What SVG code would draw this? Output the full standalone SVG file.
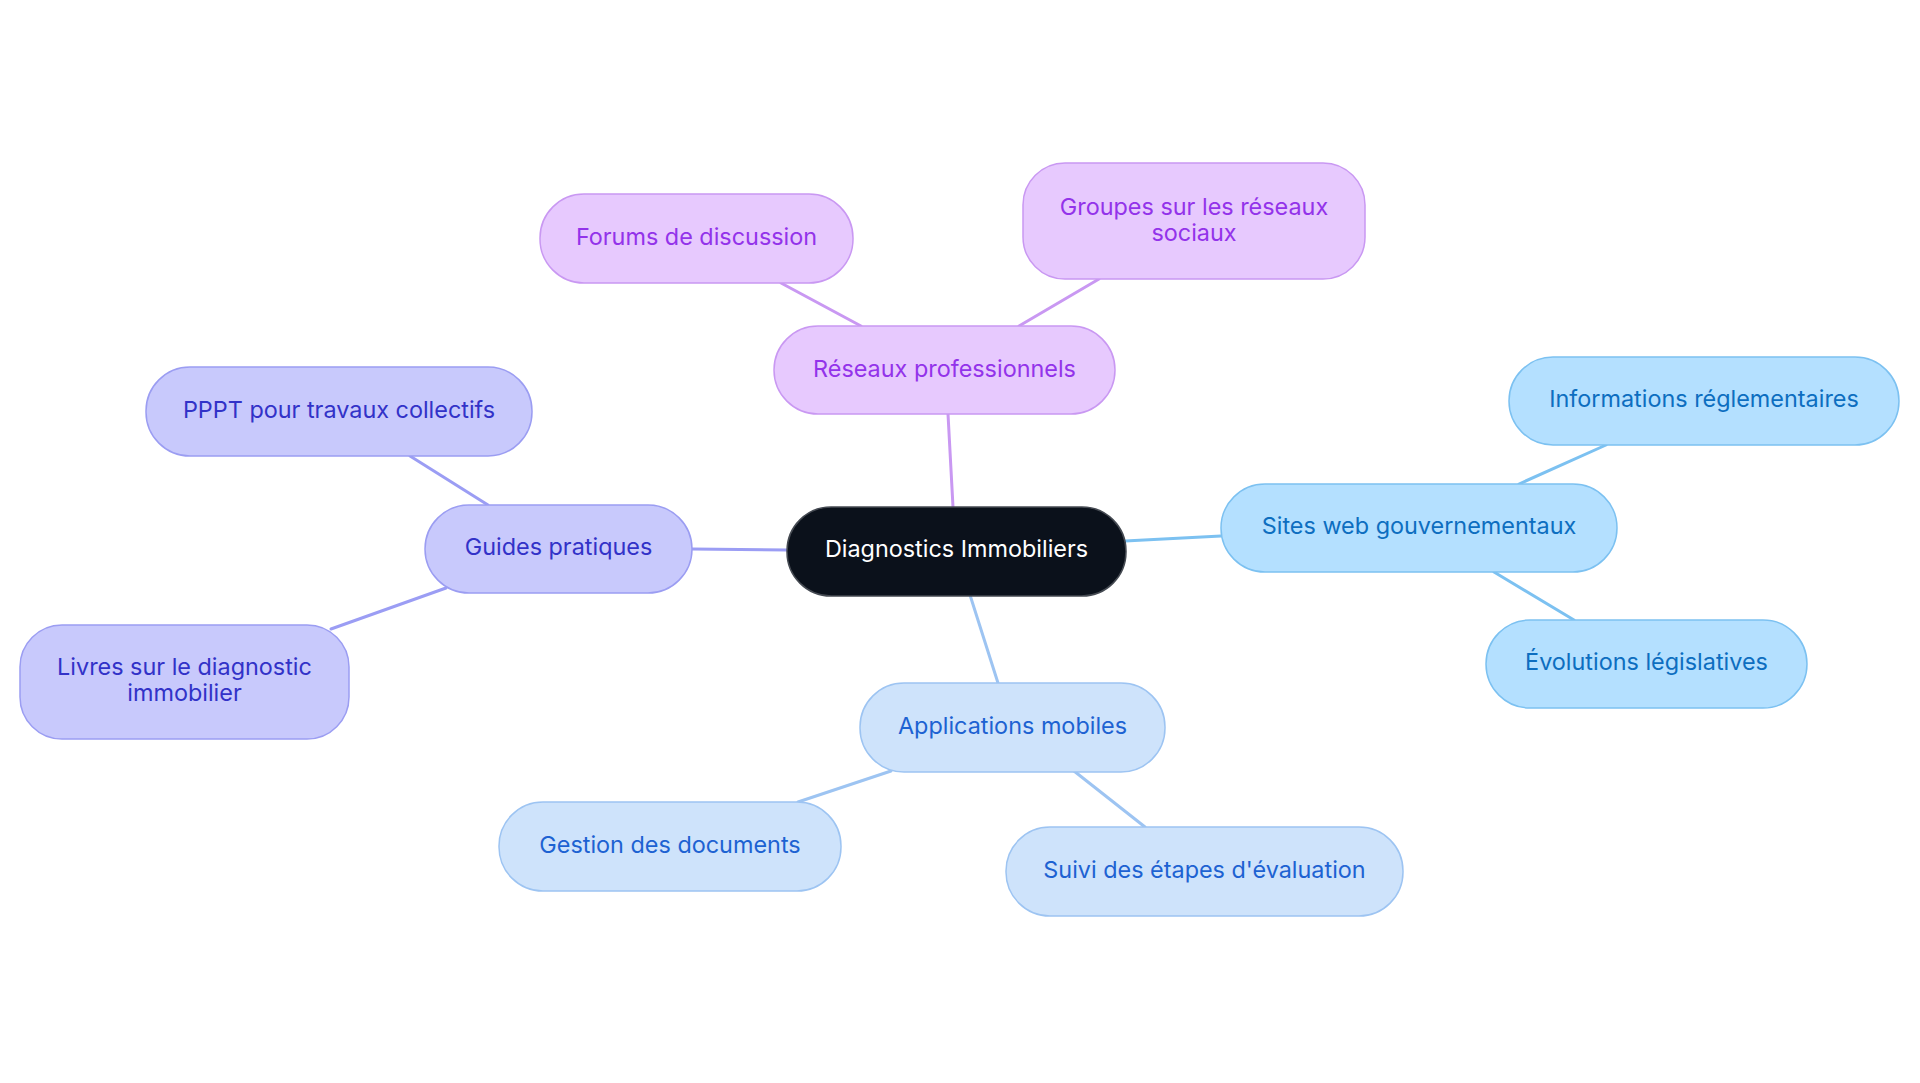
<svg xmlns="http://www.w3.org/2000/svg" width="1920" height="1083" viewBox="0 0 1920 1083">
<style>
text{font-family:Inter,"Noto Sans","Liberation Sans",sans-serif;font-size:23.4px;text-anchor:middle}
.e{fill:none;stroke-width:3;stroke-linecap:round}
.root rect{fill:#0b111b;stroke:#454a52;stroke-width:1.5}
.root text{fill:#ffffff}
.pu rect{fill:#e7c9fe;stroke:#c998f2;stroke-width:1.5}
.pu text{fill:#9333ea}
.in rect{fill:#c8c9fc;stroke:#9b9df2;stroke-width:1.5}
.in text{fill:#3232c8}
.sk rect{fill:#b4e0ff;stroke:#7cc1f1;stroke-width:1.5}
.sk text{fill:#0d6ec0}
.bl rect{fill:#cee3fb;stroke:#9dc4f2;stroke-width:1.5}
.bl text{fill:#1d62d2}
</style>
<rect width="1920" height="1083" fill="#ffffff"/>
<g id="connectors">
<line class="e" stroke="#c998f2" x1="953" y1="507" x2="948" y2="414"/>
<line class="e" stroke="#c998f2" x1="861" y1="326" x2="781" y2="283"/>
<line class="e" stroke="#c998f2" x1="1019" y1="326" x2="1099" y2="279"/>
<line class="e" stroke="#9b9df4" x1="787" y1="550" x2="692" y2="549"/>
<line class="e" stroke="#9b9df4" x1="488" y1="505" x2="410" y2="456"/>
<line class="e" stroke="#9b9df4" x1="446" y1="588" x2="331" y2="629"/>
<line class="e" stroke="#7cc1f1" x1="1125" y1="541" x2="1221" y2="536"/>
<line class="e" stroke="#7cc1f1" x1="1519" y1="484" x2="1606" y2="445"/>
<line class="e" stroke="#7cc1f1" x1="1494" y1="572" x2="1574" y2="620"/>
<line class="e" stroke="#9dc4f2" x1="970" y1="595" x2="998" y2="683"/>
<line class="e" stroke="#9dc4f2" x1="891" y1="771" x2="798" y2="802"/>
<line class="e" stroke="#9dc4f2" x1="1074" y1="771" x2="1145" y2="827"/>
</g>
<g id="root" class="root"><rect x="787" y="507" width="339" height="89" rx="44"/><text x="956.5" y="557">Diagnostics Immobiliers</text></g>
<g id="reseaux" class="pu"><rect x="774" y="326" width="341" height="88" rx="44"/><text x="944.5" y="377">Réseaux professionnels</text></g>
<g id="forums" class="pu"><rect x="540" y="194" width="313" height="89" rx="44"/><text x="696.5" y="245">Forums de discussion</text></g>
<g id="groupes" class="pu"><rect x="1023" y="163" width="342" height="116" rx="42"/><text x="1194" y="215">Groupes sur les réseaux</text><text x="1194" y="241">sociaux</text></g>
<g id="guides" class="in"><rect x="425" y="505" width="267" height="88" rx="44"/><text x="558.5" y="555">Guides pratiques</text></g>
<g id="pppt" class="in"><rect x="146" y="367" width="386" height="89" rx="44"/><text x="339" y="418">PPPT pour travaux collectifs</text></g>
<g id="livres" class="in"><rect x="20" y="625" width="329" height="114" rx="42"/><text x="184.5" y="675">Livres sur le diagnostic</text><text x="184.5" y="701">immobilier</text></g>
<g id="sites" class="sk"><rect x="1221" y="484" width="396" height="88" rx="44"/><text x="1419" y="534">Sites web gouvernementaux</text></g>
<g id="info" class="sk"><rect x="1509" y="357" width="390" height="88" rx="44"/><text x="1704" y="407">Informations réglementaires</text></g>
<g id="evol" class="sk"><rect x="1486" y="620" width="321" height="88" rx="44"/><text x="1646.5" y="670">Évolutions législatives</text></g>
<g id="apps" class="bl"><rect x="860" y="683" width="305" height="89" rx="44"/><text x="1012.5" y="734">Applications mobiles</text></g>
<g id="gestion" class="bl"><rect x="499" y="802" width="342" height="89" rx="44"/><text x="670" y="853">Gestion des documents</text></g>
<g id="suivi" class="bl"><rect x="1006" y="827" width="397" height="89" rx="44"/><text x="1204.5" y="878">Suivi des étapes d'évaluation</text></g>
</svg>
